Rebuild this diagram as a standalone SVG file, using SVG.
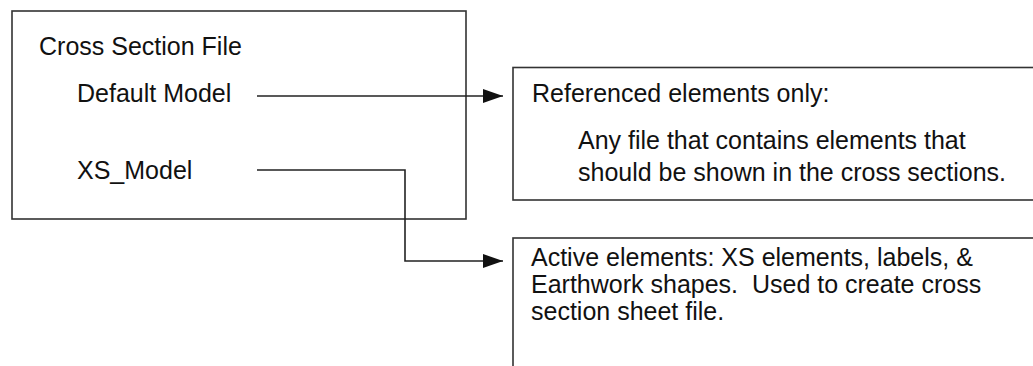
<svg xmlns="http://www.w3.org/2000/svg" width="1033" height="366" viewBox="0 0 1033 366">
<style>
.box{fill:#fff;stroke:#333;stroke-width:1.6}
.t{font-family:"Liberation Sans",Arial,sans-serif;font-size:25px;fill:#111;white-space:pre}
.c{fill:none;stroke:#222;stroke-width:1.6}
</style>
<defs>
<marker id="arr" markerUnits="userSpaceOnUse" markerWidth="20" markerHeight="14" refX="20" refY="7" orient="auto">
<path d="M0,0 L20,7 L0,14 Z" fill="#111"/>
</marker>
</defs>
<g id="cross-section-file">
<rect class="box" x="12" y="11" width="454" height="208"/>
<text class="t" x="39" y="55">Cross Section File</text>
<text class="t" x="77" y="102">Default Model</text>
<text class="t" x="77" y="179">XS_Model</text>
</g>
<g id="referenced">
<rect class="box" x="513" y="67.5" width="530" height="132.5"/>
<text class="t" x="532" y="102">Referenced elements only:</text>
<text class="t" x="578" y="149">Any file that contains elements that</text>
<text class="t" x="578" y="181">should be shown in the cross sections.</text>
</g>
<g id="active">
<rect class="box" x="513" y="238" width="530" height="140"/>
<text class="t" x="531" y="266">Active elements: XS elements, labels, &amp;</text>
<text class="t" x="531" y="293" xml:space="preserve">Earthwork shapes.  Used to create cross</text>
<text class="t" x="531" y="320">section sheet file.</text>
</g>
<g id="connectors">
<path class="c" d="M257,96 H503" marker-end="url(#arr)"/>
<path class="c" d="M257,170 H405 V261 H503" marker-end="url(#arr)"/>
</g>
</svg>
